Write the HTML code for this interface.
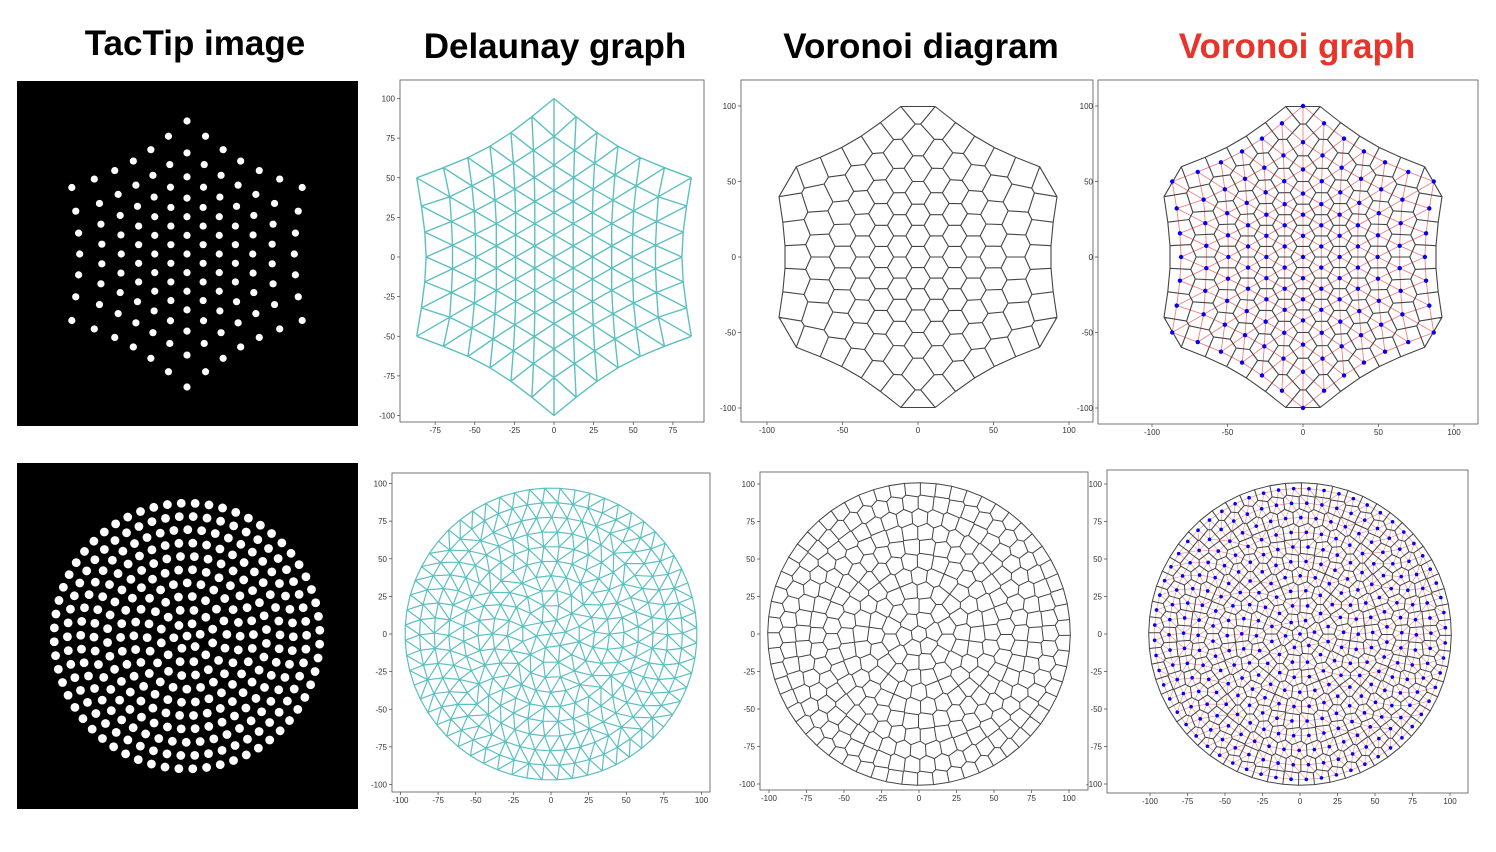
<!DOCTYPE html>
<html><head><meta charset="utf-8"><style>
html,body{margin:0;padding:0;background:#fff;width:1496px;height:852px;overflow:hidden}
svg{display:block}
.t{font-family:"Liberation Sans",sans-serif;font-weight:bold;font-size:35px;text-anchor:middle}
.tk{font-family:"Liberation Sans",sans-serif;font-size:8px;fill:#333}
</style></head><body>
<svg id="fig" width="1496" height="852">
<text class="t" x="195" y="55">TacTip image</text>
<text class="t" x="555" y="58">Delaunay graph</text>
<text class="t" x="921" y="58">Voronoi diagram</text>
<text class="t" x="1297" y="58" fill="#e8342a">Voronoi graph</text>
</svg>
<script>
// ---- data ----
const hexRings = [0,1,2,3,4,5,6];            // hexagonal pin rings
const hexRingRadius = [0,14,28,42,58,76,100]; // displayed radius per lattice distance
const circRings = [0,1,2,3,4,5,6,7,8,9,10];   // circular pin rings
const circRadius = [97];
const ticks25 = [-100,-75,-50,-25,0,25,50,75,100];
const ticks50 = [-100,-50,0,50,100];
const ticksD1 = [-75,-50,-25,0,25,50,75];

const NS='http://www.w3.org/2000/svg';
const svg=document.getElementById('fig');
function el(tag,attrs,parent){const e=document.createElementNS(NS,tag);for(const k in attrs)e.setAttribute(k,attrs[k]);(parent||svg).appendChild(e);return e;}

function radMap(e){const i=Math.min(Math.floor(e),hexRingRadius.length-2);const f=e-i;return hexRingRadius[i]+(hexRingRadius[i+1]-hexRingRadius[i])*f;}
const hexPts=[];
hexRings.forEach(k=>{
  if(k===0){hexPts.push([0,0]);return;}
  for(let i=0;i<6;i++){
    const a1=(90+60*i)*Math.PI/180,a2=(90+60*(i+1))*Math.PI/180;
    for(let t=0;t<k;t++){
      const f=t/k;
      const x=(Math.cos(a1)+(Math.cos(a2)-Math.cos(a1))*f)*k, y=(Math.sin(a1)+(Math.sin(a2)-Math.sin(a1))*f)*k;
      const e=Math.hypot(x,y),r=radMap(e);
      hexPts.push([x/e*r,y/e*r]);
    }
  }
});
const circPts=[];
const cm=circRings[circRings.length-1];
circRings.forEach(k=>{
  if(k===0){circPts.push([0,0]);return;}
  const m=6*k,r=circRadius[0]*k/cm;
  for(let i=0;i<m;i++){const a=2*Math.PI*i/m+k*0.13;circPts.push([r*Math.cos(a),r*Math.sin(a)]);}
});

function circum(p,a,b,c){
  const [ax,ay]=p[a],[bx,by]=p[b],[cx,cy]=p[c];
  const d=2*(ax*(by-cy)+bx*(cy-ay)+cx*(ay-by));
  const ux=((ax*ax+ay*ay)*(by-cy)+(bx*bx+by*by)*(cy-ay)+(cx*cx+cy*cy)*(ay-by))/d;
  const uy=((ax*ax+ay*ay)*(cx-bx)+(bx*bx+by*by)*(ax-cx)+(cx*cx+cy*cy)*(bx-ax))/d;
  return [ux,uy,(ax-ux)**2+(ay-uy)**2];
}
function delaunay(pts,maxR){
  const p=pts.slice();const N=p.length;
  p.push([-5000,-5000],[5000,-5000],[0,5000]);
  let tris=[[N,N+1,N+2,...circum(p,N,N+1,N+2)]];
  for(let i=0;i<N;i++){
    const [x,y]=p[i];const bad=[],keep=[];
    tris.forEach(t=>{((x-t[3])**2+(y-t[4])**2<t[5]-1e-9)?bad.push(t):keep.push(t);});
    const ec={};
    bad.forEach(t=>{[[t[0],t[1]],[t[1],t[2]],[t[2],t[0]]].forEach(e=>{const k=Math.min(...e)+','+Math.max(...e);ec[k]=(ec[k]||0)+1;});});
    bad.forEach(t=>{[[t[0],t[1]],[t[1],t[2]],[t[2],t[0]]].forEach(e=>{const k=Math.min(...e)+','+Math.max(...e);if(ec[k]===1)keep.push([e[0],e[1],i,...circum(p,e[0],e[1],i)]);});});
    tris=keep;
  }
  tris=tris.filter(t=>t[0]<N&&t[1]<N&&t[2]<N&&Math.sqrt(t[5])<maxR);
  const edges={};
  tris.forEach((t,ti)=>{[[t[0],t[1],t[2]],[t[1],t[2],t[0]],[t[2],t[0],t[1]]].forEach(e=>{const k=Math.min(e[0],e[1])+','+Math.max(e[0],e[1]);(edges[k]=edges[k]||[]).push([ti,e[2]]);});});
  return {tris,edges};
}
const D1=delaunay(hexPts,22),D2=delaunay(circPts,14);

function axes(name,x0,y0,x1,y1,cx,cy,s,xt,yt){
  const g=el('g',{},svg);
  el('rect',{x:x0,y:y0,width:x1-x0,height:y1-y0,fill:'#fff',stroke:'#555','stroke-width':0.8},g);
  xt.forEach(v=>{const X=cx+v*s;el('line',{x1:X,y1:y1,x2:X,y2:y1+3,stroke:'#444','stroke-width':0.7},g);const t=el('text',{x:X,y:y1+11,'text-anchor':'middle',class:'tk'},g);t.textContent=v;});
  yt.forEach(v=>{const Y=cy-v*s;el('line',{x1:x0-3,y1:Y,x2:x0,y2:Y,stroke:'#444','stroke-width':0.7},g);const t=el('text',{x:x0-5,y:Y+3,'text-anchor':'end',class:'tk'},g);t.textContent=v;});
  return g;
}
function drawDel(g,D,pts,cx,cy,s,col,w,op){
  let d='';for(const k in D.edges){const [a,b]=k.split(',').map(Number);d+=`M${(cx+pts[a][0]*s).toFixed(1)},${(cy-pts[a][1]*s).toFixed(1)}L${(cx+pts[b][0]*s).toFixed(1)},${(cy-pts[b][1]*s).toFixed(1)}`;}
  el('path',{d,stroke:col,'stroke-width':w,fill:'none','stroke-opacity':op||1},g);
}
function drawVor(g,D,pts,cx,cy,s,off,w){
  let d='';const outer=[];
  const P=(x,y)=>`${(cx+x*s).toFixed(1)},${(cy-y*s).toFixed(1)}`;
  for(const k in D.edges){const l=D.edges[k];
    if(l.length===2){const A=D.tris[l[0][0]],B=D.tris[l[1][0]];d+=`M${P(A[3],A[4])}L${P(B[3],B[4])}`;}
    else{const A=D.tris[l[0][0]];const [a,b]=k.split(',').map(Number);const c=pts[l[0][1]];
      const mx=(pts[a][0]+pts[b][0])/2,my=(pts[a][1]+pts[b][1])/2;
      let nx=pts[b][1]-pts[a][1],ny=-(pts[b][0]-pts[a][0]);const L=Math.hypot(nx,ny);nx/=L;ny/=L;
      if(nx*(c[0]-mx)+ny*(c[1]-my)>0){nx=-nx;ny=-ny;}
      const ox=mx+nx*off,oy=my+ny*off;outer.push([ox,oy]);
      d+=`M${P(A[3],A[4])}L${P(ox,oy)}`;}
  }
  outer.sort((u,v)=>Math.atan2(u[1],u[0])-Math.atan2(v[1],v[0]));
  outer.forEach((o,i)=>{d+=(i?'L':'M')+P(o[0],o[1]);});d+='Z';
  el('path',{d,stroke:'#444','stroke-width':w,fill:'none','stroke-linejoin':'round'},g);
}
function dots(g,pts,cx,cy,s,r,col){pts.forEach(p=>{el('circle',{cx:cx+p[0]*s,cy:cy-p[1]*s,r,fill:col},g);});}

// row 1
let g=el('g',{},svg);
el('rect',{x:17,y:81,width:341,height:345,fill:'#000'},g);dots(g,hexPts,187,254,1.33,3.6,'#fff');
g=axes('delaunay-plot-hex',400,80,704,422,554,257,1.585,ticksD1,ticks25);drawDel(g,D1,hexPts,554,257,1.585,'#5cc0c0',1.4);
g=axes('voronoi-diagram-hex',741,80,1093,422,918,257,1.51,ticks50,ticks50);drawVor(g,D1,hexPts,918,257,1.51,7,1.1);
g=axes('voronoi-graph-hex',1098,80,1478,424,1303,257,1.51,ticks50,ticks50);drawDel(g,D1,hexPts,1303,257,1.51,'#f06060',0.9,0.8);drawVor(g,D1,hexPts,1303,257,1.51,7,1.1);dots(g,hexPts,1303,257,1.51,2.2,'#00f');
// row 2
g=el('g',{},svg);
el('rect',{x:17,y:463,width:341,height:346,fill:'#000'},g);dots(g,circPts,187,636,1.37,4.4,'#fff');
g=axes('delaunay-plot-circle',392,473,710,792,551,634,1.505,ticks25,ticks25);drawDel(g,D2,circPts,551,634,1.505,'#5cc0c0',1.2);
g=axes('voronoi-diagram-circle',760,472,1088,790,919,634,1.5,ticks25,ticks25);drawVor(g,D2,circPts,919,634,1.5,4,1);
g=axes('voronoi-graph-circle',1107,470,1468,793,1300,634,1.5,ticks25,ticks25);drawDel(g,D2,circPts,1300,634,1.5,'#f06060',0.6,0.8);drawVor(g,D2,circPts,1300,634,1.5,4,1);dots(g,circPts,1300,634,1.5,1.8,'#00f');
</script>
</body></html>
